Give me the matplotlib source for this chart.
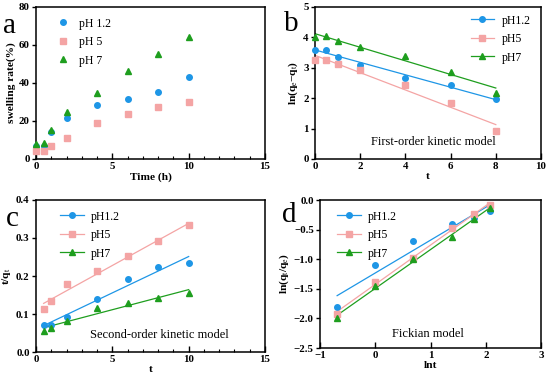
import numpy as np
import matplotlib
matplotlib.use("Agg")
import matplotlib.pyplot as plt
from matplotlib.ticker import MultipleLocator

plt.rcParams['font.family'] = ['Liberation Serif', 'DejaVu Serif']
plt.rcParams['mathtext.fontset'] = 'custom'
plt.rcParams['mathtext.rm'] = 'Liberation Serif'
plt.rcParams['mathtext.bf'] = 'Liberation Serif:bold'
plt.rcParams['mathtext.it'] = 'Liberation Serif:italic'

labels_a = ["pH 1.2", "pH 5", "pH 7"]
labels = ["pH1.2", "pH5", "pH7"]
c_blue, c_pink, c_green = "#1e96e6", "#f4a4a4", "#1e9e1e"
colors = [c_blue, c_pink, c_green]
markers = ["o", "s", "^"]

# Panel a: swelling rate
t_a = [0, 0.5, 1, 2, 4, 6, 8, 10]
swell_12 = [7, 7, 14, 21.5, 28.5, 31.5, 35.5, 43]
swell_5 = [4, 4, 7, 11, 19, 23.5, 27.5, 30]
swell_7 = [8, 8.5, 15.5, 24.5, 34.5, 46.5, 55.5, 64]

# Panel b: first-order
t_b = [0, 0.5, 1, 2, 4, 6, 8]
fo_12 = [3.6, 3.6, 3.37, 3.08, 2.67, 2.43, 1.97]
fo_5 = [3.25, 3.25, 3.12, 2.93, 2.43, 1.85, 0.92]
fo_7 = [4.0, 4.03, 3.88, 3.69, 3.40, 2.87, 2.18]

# Panel c: second-order
t_c = [0.5, 1, 2, 4, 6, 8, 10]
so_12 = [0.070, 0.071, 0.093, 0.140, 0.191, 0.224, 0.233]
so_5 = [0.114, 0.133, 0.178, 0.213, 0.253, 0.291, 0.334]
so_7 = [0.056, 0.063, 0.081, 0.116, 0.128, 0.143, 0.155]

# Panel d: Fickian
lnt = [-0.69, 0.0, 0.69, 1.39, 1.79, 2.08]
fk_12 = [-1.80, -1.10, -0.70, -0.40, -0.30, -0.18]
fk_5 = [-1.92, -1.38, -0.98, -0.47, -0.23, -0.08]
fk_7 = [-1.99, -1.45, -1.00, -0.62, -0.32, -0.13]

W, H = 550, 377
fig = plt.figure(figsize=(5.5, 3.77), dpi=100)

def add_ax(l, r, t, b):
    return fig.add_axes([l / W, (H - b) / H, (r - l) / W, (b - t) / H])

def style(ax, xlim, ylim, xmaj, ymaj, xminor=None):
    ax.set_xlim(*xlim)
    ax.set_ylim(*ylim)
    ax.xaxis.set_major_locator(MultipleLocator(xmaj))
    ax.yaxis.set_major_locator(MultipleLocator(ymaj))
    if xminor:
        ax.xaxis.set_minor_locator(MultipleLocator(xminor))
    for s in ax.spines.values():
        s.set_linewidth(1.1)
    ax.tick_params(axis='x', which='major', direction='in', length=4, width=1, labelsize=7.8, pad=2)
    ax.tick_params(axis='x', which='minor', direction='in', length=2.5, width=0.8)
    ax.tick_params(axis='y', which='major', direction='out', length=3, width=1, labelsize=7.8, pad=1.5)
    for lab in ax.get_xticklabels() + ax.get_yticklabels():
        lab.set_fontweight('bold')

ms = 4.0
lw = 0.9
lab_fs = 8.2
leg_kw = dict(frameon=False, fontsize=8.5, labelspacing=0.55, handletextpad=0.6)

# ---- a ----
axa = add_ax(36, 265, 7, 159)
for ys, c, m, lab in zip([swell_12, swell_5, swell_7], colors, markers, labels_a):
    axa.plot(t_a, ys, linestyle='none', marker=m, color=c, ms=ms, label=lab, clip_on=False, zorder=3)
style(axa, (0, 15), (0, 80), 5, 20, 1)
axa.set_xlabel("Time (h)", fontsize=lab_fs, fontweight='bold', labelpad=1)
axa.set_ylabel("swelling rate(%)", fontsize=lab_fs, fontweight='bold', labelpad=2)
axa.legend(loc='upper left', bbox_to_anchor=(0.03, 1.0), handlelength=1.6, **leg_kw)
fig.text(3 / W, 1 - 33 / H, "a", fontsize=21)

# ---- b ----
axb = add_ax(315, 541, 7, 159)
for ys, c, m, lab in zip([fo_12, fo_5, fo_7], colors, markers, labels):
    k, b0 = np.polyfit(t_b, ys, 1)
    xx = np.array([t_b[0], t_b[-1]])
    axb.plot(xx, k * xx + b0, color=c, lw=lw)
    axb.plot(t_b, ys, linestyle='none', marker=m, color=c, ms=ms, clip_on=False, zorder=3)
    axb.plot([], [], color=c, lw=lw, marker=m, ms=ms, label=lab)
style(axb, (0, 10), (0, 5), 2, 1)
axb.set_xlabel("t", fontsize=lab_fs, fontweight='bold', labelpad=1)
axb.set_ylabel(r"ln(q$_\mathrm{e}$$-$q$_\mathrm{t}$)", fontsize=lab_fs, fontweight='bold', labelpad=2)
axb.legend(loc='upper right', bbox_to_anchor=(1.0, 1.02), handlelength=2.0, **leg_kw)
axb.text(5.25, 0.55, "First-order kinetic model", fontsize=9, ha='center', va='center')
fig.text(284 / W, 1 - 31 / H, "b", fontsize=21)

# ---- c ----
axc = add_ax(36, 265, 200, 352)
for ys, c, m, lab in zip([so_12, so_5, so_7], colors, markers, labels):
    k, b0 = np.polyfit(t_c, ys, 1)
    xx = np.array([t_c[0], t_c[-1]])
    axc.plot(xx, k * xx + b0, color=c, lw=lw)
    axc.plot(t_c, ys, linestyle='none', marker=m, color=c, ms=ms, clip_on=False, zorder=3)
    axc.plot([], [], color=c, lw=lw, marker=m, ms=ms, label=lab)
style(axc, (0, 15), (0, 0.4), 5, 0.1, 1)
axc.set_xlabel("t", fontsize=lab_fs, fontweight='bold', labelpad=1)
axc.set_ylabel(r"t/q$_\mathrm{t}$", fontsize=lab_fs, fontweight='bold', labelpad=2)
axc.legend(loc='upper left', bbox_to_anchor=(0.06, 1.0), handlelength=2.0, **leg_kw)
axc.text(8.05, 0.045, "Second-order kinetic model", fontsize=9, ha='center', va='center')
fig.text(6 / W, 1 - 226 / H, "c", fontsize=21)

# ---- d ----
axd = add_ax(320, 541, 200, 348)
for ys, c, m, lab in zip([fk_12, fk_5, fk_7], colors, markers, labels):
    k, b0 = np.polyfit(lnt, ys, 1)
    xx = np.array([lnt[0], lnt[-1]])
    axd.plot(xx, k * xx + b0, color=c, lw=lw)
    axd.plot(lnt, ys, linestyle='none', marker=m, color=c, ms=ms, clip_on=False, zorder=3)
    axd.plot([], [], color=c, lw=lw, marker=m, ms=ms, label=lab)
style(axd, (-1, 3), (-2.5, 0), 1, 0.5)
axd.set_xlabel("lnt", fontsize=lab_fs, fontweight='bold', labelpad=1)
axd.set_ylabel(r"ln(q$_\mathrm{t}$/q$_\mathrm{e}$)", fontsize=lab_fs, fontweight='bold', labelpad=2)
axd.legend(loc='upper left', bbox_to_anchor=(0.03, 1.0), handlelength=2.0, **leg_kw)
axd.text(0.95, -2.26, "Fickian model", fontsize=9, ha='center', va='center')
fig.text(282 / W, 1 - 222 / H, "d", fontsize=21)

fig.savefig("out.png", dpi=100)
